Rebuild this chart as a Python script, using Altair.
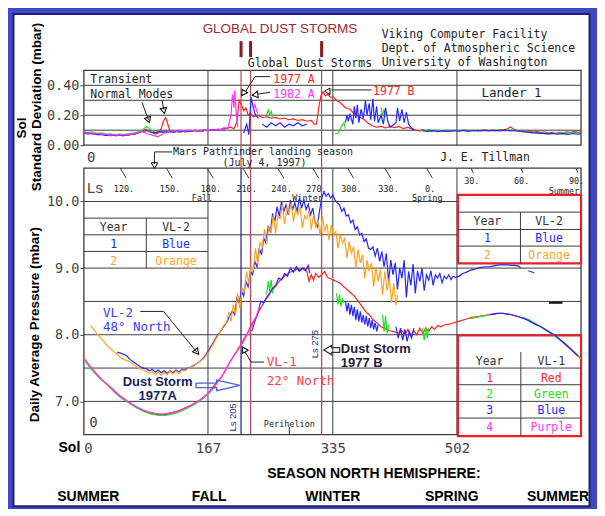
import altair as alt
import pandas as pd

W, H = 498, 365

BG_BLUE = "#4147c7"
NAVY = "#1d206c"
GRID = "#3c3c3c"
LABEL = "#444444"
MONO = "DejaVu Sans Mono"
SANS = "Liberation Sans"
C_RED, C_GREEN, C_BLUE, C_MAG, C_ORANGE = "#ff2424", "#22dd22", "#2626ff", "#ff33ff", "#ffa31f"
STORM_RED = "#b8475c"
STORM_NAVY = "#2c2a78"

# ---------------- data: daily average pressure (mbar) ----------------
VL2_BLUE = [[(45,7.74),(50,7.72),(55,7.70),(58,7.68),(62,7.63),(67,7.59),(72,7.55),(76,7.52),(80,7.50),(84,7.49),
             (88,7.46),(92,7.48),(96,7.44),(100,7.47),(104,7.43),(108,7.46),(112,7.42),(116,7.46),(120,7.43),(124,7.47),
             (128,7.44),(132,7.48),(136,7.47),(140,7.50),(144,7.52),(148,7.54),(152,7.57),(156,7.60),(160,7.64),(164,7.70),
             (168,7.77),(172,7.84),(176,7.92),(180,8.00),(184,8.05),(188,8.12),(192,8.18),(196,8.28),(200,8.36),(203,8.30),
             (206,8.55),(209,8.48),(212,8.66),(215,8.58),(218,8.80),(221,8.72),(224,8.96),(227,8.90),(230,9.10),(233,9.02),
             (236,9.30),(239,9.20),(242,9.45),(245,9.38),(248,9.62),(251,9.55),(254,9.82),(257,9.70),(260,9.92),(263,9.78),
             (266,10.00),(269,9.85),(272,9.95),(275,9.80),(278,10.02),(281,9.88),(284,9.98),(287,9.84),(290,10.05),(293,9.90),
             (296,10.02),(299,9.88),(302,9.96),(305,9.80),(308,9.90),(311,9.70),(314,9.62),(317,9.85),(320,10.05),(323,10.14),
             (326,10.08),(329,10.12),(332,10.05),(335,10.10),(338,10.02),(341,9.98),(344,9.95),(347,9.85),(350,9.90),(353,9.78),
             (356,9.80),(359,9.68),(362,9.72),(365,9.58),(368,9.62),(371,9.50),(374,9.52),(377,9.40),(380,9.44),(383,9.30),
             (386,9.28),(389,9.32),(392,9.18),(395,9.30),(398,9.10),(401,9.25),(404,9.02),(407,9.22),(410,8.80),(413,9.12),
             (416,8.90),(419,9.08),(422,8.68),(425,9.00),(428,8.85),(431,9.12),(434,8.56),(437,8.95),(440,8.74),(443,9.06),
             (446,8.62),(449,8.96),(452,8.80),(455,9.00),(458,8.66),(461,8.90),(464,8.82),(467,8.96),(470,8.74),(473,8.90),
             (476,8.85),(479,8.92),(482,8.78),(485,8.88),(488,8.84),(491,8.90),(494,8.83),(497,8.88),(500,8.86),(505,8.88),
             (510,8.92),(515,8.94),(520,8.97),(525,8.98),(530,9.00),(535,9.01),(540,9.02),(545,9.02),(550,9.03),(555,9.04),
             (560,9.05),(565,9.05),(570,9.05),(575,9.04),(580,9.04),(585,9.03),(588,9.00)],
            [(598,8.96),(606,8.93)]]

VL2_ORANGE = [[(9,8.14),(14,8.07),(18,8.01),(22,7.96),(27,7.90),(31,7.84),(36,7.79),(40,7.75),(45,7.71),(49,7.66),
               (54,7.63),(58,7.61),(62,7.59),(67,7.55),(71,7.52),(76,7.49),(80,7.47),(84,7.45),(88,7.42),(92,7.44),
               (96,7.40),(100,7.44),(104,7.39),(108,7.43),(112,7.40),(116,7.45),(120,7.41),(124,7.46),(128,7.42),(132,7.47),
               (136,7.46),(140,7.49),(144,7.52),(148,7.55),(152,7.57),(156,7.60),(160,7.63),(164,7.68),(168,7.74),(172,7.82),
               (176,7.90),(180,7.98),(184,8.05),(188,8.14),(192,8.18),(195,8.34),(198,8.20),(201,8.45),(204,8.30),(207,8.62),
               (210,8.40),(213,8.70),(216,8.66),(219,8.95),(222,8.76),(225,9.02),(228,8.98),(231,9.30),(234,9.05),(237,9.38),
               (240,9.32),(243,9.58),(246,9.36),(249,9.62),(252,9.55),(255,9.80),(258,9.52),(261,9.78),(264,9.74),(267,9.95),
               (270,9.66),(273,9.90),(276,9.82),(279,9.98),(282,9.70),(285,9.88),(288,9.80),(291,9.92),(294,9.60),(297,9.78),
               (300,9.74),(303,9.86),(306,9.58),(309,9.80),(312,9.62),(315,9.70),(318,9.48),(321,9.78),(324,9.55),(327,9.66),
               (330,9.42),(333,9.65),(336,9.50),(339,9.55),(342,9.30),(345,9.50),(348,9.38),(351,9.45),(354,9.15),(357,9.40),
               (360,9.22),(363,9.32),(366,9.00),(369,9.28),(372,9.08),(375,9.20),(378,8.85),(381,9.12),(384,8.95),(387,9.08),
               (390,8.72),(393,9.02),(396,8.80),(399,8.98),(402,8.60),(405,8.95),(408,8.66),(411,8.85),(414,8.48),(417,8.78),
               (420,8.44),(422,8.60)]]

VL1_RED = [[(0,7.64),(6,7.56),(12,7.48),(18,7.40),(24,7.33),(30,7.27),(36,7.21),(42,7.15),(48,7.09),(54,7.04),
            (60,6.99),(66,6.95),(72,6.91),(78,6.87),(84,6.84),(90,6.82),(96,6.81),(102,6.80),(108,6.80),(114,6.81),
            (120,6.83),(126,6.85),(132,6.88),(138,6.91),(144,6.94),(150,6.98),(156,7.02),(162,7.07),(168,7.13),(174,7.22),
            (180,7.30),(186,7.38),(192,7.50),(198,7.62),(204,7.72),(208,7.80),(212,7.86),(216,7.95),(220,8.02),(224,8.12),
            (228,8.20),(232,8.27),(236,8.36),(240,8.44),(244,8.52),(248,8.58),(252,8.65),(256,8.70),(260,8.76),(264,8.82),
            (268,8.86),(272,8.90),(276,8.93),(280,8.95),(284,8.97),(288,8.99),(292,8.97),(296,9.00),(300,8.96),(303,8.80),
            (306,8.90),(309,8.82),(312,8.92),(316,8.86),(320,8.90),(324,8.95),(328,8.86),(332,8.84),(336,8.82),(340,8.80),
            (344,8.78),(348,8.74),(352,8.70),(356,8.66),(360,8.62),(364,8.58),(368,8.52),(372,8.46),(376,8.40),(380,8.34),
            (384,8.30),(388,8.24),(392,8.20),(396,8.16),(400,8.12),(404,8.10),(408,8.08),(412,8.06),(416,8.05),(420,8.04),
            (424,8.02),(428,8.06),(432,8.00),(436,8.08),(440,7.98),(444,8.06),(448,8.00),(452,8.10),(456,8.02),(460,8.10),
            (464,8.05),(468,8.12),(472,8.08),(476,8.14),(480,8.12),(486,8.15),(492,8.16),(498,8.18),(504,8.20),(510,8.22),
            (516,8.24),(522,8.26),(528,8.27),(534,8.28),(540,8.29),(546,8.30),(552,8.31),(558,8.32),(564,8.32),(570,8.31),
            (576,8.30),(582,8.28),(588,8.26),(594,8.24),(600,8.21),(606,8.17),(612,8.14),(618,8.10),(624,8.06),(630,8.02),
            (636,7.97),(642,7.91),(648,7.85),(654,7.79),(660,7.73),(666,7.67),(669,7.64)]]

VL1_GREEN = [[(0,7.63),(10,7.48),(20,7.36),(30,7.26),(40,7.15),(50,7.05),(60,6.98),(70,6.91),(80,6.85),(90,6.81),
              (100,6.79),(110,6.79),(120,6.81),(130,6.85),(140,6.90),(150,6.96),(160,7.04),(170,7.14),(178,7.24)],
             [(246,8.60),(248,8.80),(250,8.65),(252,8.82),(254,8.62)],
             [(340,8.62),(342,8.45),(344,8.60),(346,8.42),(348,8.55),(350,8.48)],
             [(402,8.30),(404,8.05),(406,8.28),(408,8.02),(410,8.15)],
             [(456,8.10),(458,7.92),(460,8.12),(462,7.95),(464,8.10)],
             [(520,8.24),(528,8.26),(536,8.28),(544,8.29)],
             [(590,8.26),(600,8.22),(610,8.15),(620,8.08),(630,8.01),(640,7.93),(650,7.84),(660,7.74),(669,7.64)]]

VL1_BLUE = [[(226,8.05),(230,8.20),(234,8.32),(238,8.50),(242,8.48),(246,8.56),(250,8.62),(254,8.70),(258,8.74),(262,8.85),
             (266,8.82),(270,8.92),(274,8.88),(278,9.00),(282,8.94),(286,9.02),(290,8.95),(294,9.00),(298,8.96),(302,9.04),(304,8.92)],
            [(352,8.50),(354,8.35),(356,8.48),(358,8.30),(360,8.45),(362,8.28),(364,8.42),(366,8.22),(368,8.38),(370,8.20),
             (372,8.35),(374,8.18),(376,8.30),(378,8.15),(380,8.28),(382,8.12),(384,8.25),(386,8.10),(388,8.22),(390,8.08),
             (392,8.18),(394,8.05),(396,8.15)],
            [(420,8.12),(423,7.95),(426,8.10),(429,7.92),(432,8.08),(435,7.90),(438,8.05),(441,7.95),(444,8.10)],
            [(545,8.30),(555,8.32),(565,8.32),(575,8.30),(585,8.27),(595,8.23),(605,8.17),(615,8.12),(625,8.05),(635,7.98),
             (645,7.89),(655,7.79),(665,7.68)]]

VL1_MAGENTA = [[(0,7.65),(8,7.53),(16,7.42),(24,7.33),(32,7.25),(40,7.16),(48,7.08),(56,7.02),(64,6.96),(72,6.91),
                (80,6.87),(88,6.84),(96,6.82),(104,6.81),(112,6.82),(120,6.84),(128,6.86),(136,6.90),(144,6.94),(152,6.99),
                (160,7.05),(168,7.13),(176,7.23),(184,7.35),(190,7.45),(196,7.58),(202,7.69),(208,7.78),(214,7.88),(220,8.01),
                (226,8.13),(232,8.28),(236,8.40)]]

# ---------------- data: sol standard deviation (mbar) ----------------
SD_RED = [[(0,0.085),(4,0.078),(8,0.083),(12,0.074),(16,0.079),(20,0.070),(24,0.075),(28,0.066),(32,0.071),(36,0.063),
           (40,0.068),(44,0.062),(48,0.069),(52,0.063),(56,0.070),(60,0.066),(64,0.074),(68,0.072),(72,0.082),(76,0.088),
           (80,0.100),(84,0.106),(88,0.092),(92,0.084),(96,0.074),(100,0.082),(104,0.110),(107,0.160),(110,0.185),(113,0.140),
           (116,0.092),(120,0.084),(124,0.092),(128,0.086),(132,0.096),(136,0.088),(140,0.095),(144,0.090),(148,0.099),(152,0.091),
           (156,0.098),(160,0.093),(164,0.101),(168,0.096),(172,0.103),(176,0.100),(180,0.108),(184,0.104),(188,0.112),(192,0.110),
           (197,0.120),(202,0.110),(206,0.160),(209,0.300),(212,0.270),(215,0.230),(218,0.250),(221,0.200),(224,0.215),(228,0.190),
           (234,0.200),(240,0.185),(246,0.190),(252,0.180),(258,0.185),(264,0.175),(270,0.180),(276,0.170),(282,0.175),(288,0.165),
           (294,0.170),(300,0.160),(306,0.165),(310,0.140),(313,0.140),(316,0.250),(319,0.330),(322,0.355),(325,0.330),(328,0.340),
           (332,0.320),(336,0.320),(340,0.300),(346,0.280),(352,0.250),(358,0.240),(364,0.210),(370,0.190),(376,0.175),(382,0.150),
           (388,0.130),(394,0.120),(400,0.125),(406,0.115),(412,0.125),(418,0.118),(424,0.125),(430,0.110),(436,0.120),(442,0.105),
           (448,0.100),(452,0.094),(456,0.103),(460,0.095),(464,0.099),(468,0.093),(472,0.100),(476,0.094),(480,0.098),(485,0.093),
           (490,0.099),(495,0.094),(500,0.098),(505,0.095),(510,0.100),(515,0.094),(520,0.099),(525,0.096),(530,0.101),(535,0.096),
           (540,0.100),(545,0.097),(550,0.102),(555,0.098),(560,0.104),(565,0.102),(570,0.110),(574,0.122),(578,0.108),(582,0.100),
           (586,0.096),(590,0.098),(595,0.092),(600,0.095),(605,0.088),(610,0.091),(615,0.085),(620,0.088),(625,0.081),(630,0.085),
           (635,0.080),(640,0.086),(645,0.082),(650,0.089),(655,0.084),(660,0.092),(665,0.086),(669,0.090)]]

SD_GREEN = [[(0,0.090),(6,0.084),(12,0.088),(18,0.078),(24,0.082),(30,0.072),(36,0.076),(42,0.069),(48,0.074),(54,0.070),
             (60,0.076),(66,0.080),(72,0.088),(78,0.100),(82,0.115),(85,0.125),(88,0.112),(92,0.098),(96,0.085),(100,0.092),
             (106,0.086),(112,0.091),(118,0.085),(124,0.094),(130,0.088),(136,0.096),(142,0.091),(148,0.098),(154,0.093),
             (160,0.101),(166,0.096),(172,0.100)],
            [(246,0.200),(248,0.235),(250,0.205),(252,0.225),(254,0.190)],
            [(338,0.075),(342,0.080),(346,0.120),(350,0.150),(352,0.110)],
            [(400,0.250),(402,0.200),(404,0.240),(406,0.190)],
            [(452,0.102),(458,0.096),(464,0.104),(470,0.097),(476,0.101),(482,0.095),(488,0.100),(494,0.094),(500,0.099),
             (506,0.095),(512,0.102),(518,0.097),(524,0.101),(530,0.095),(536,0.100),(542,0.096),(548,0.101),(554,0.097),
             (560,0.100),(566,0.096),(572,0.102),(578,0.098),(584,0.094),(590,0.090),(596,0.087),(602,0.084),(608,0.082),
             (614,0.078),(620,0.080),(626,0.076),(632,0.080),(638,0.077),(644,0.082),(650,0.080),(656,0.085),(662,0.083),
             (668,0.086)]]

SD_BLUE = [[(0,0.080),(6,0.076),(12,0.078),(18,0.071),(24,0.072),(30,0.066),(36,0.068),(42,0.063),(48,0.067),(54,0.064),
            (60,0.070),(66,0.072),(72,0.080),(78,0.090),(84,0.098),(90,0.088),(96,0.082),(102,0.090),(108,0.087),(114,0.092),
            (120,0.086),(126,0.094),(132,0.090),(138,0.096),(144,0.092),(150,0.099),(156,0.095),(162,0.101),(168,0.098),
            (174,0.104),(180,0.102),(186,0.108),(190,0.110)],
           [(215,0.080),(219,0.140),(222,0.070),(225,0.320),(228,0.250),(231,0.200),(235,0.180)],
           [(240,0.140),(246,0.120),(252,0.150),(258,0.130),(264,0.150),(270,0.120),(276,0.140),(282,0.130),(288,0.150),
            (294,0.130),(300,0.140)],
           [(352,0.150),(354,0.200),(356,0.160),(358,0.210),(362,0.140),(364,0.260),(366,0.180),(368,0.270),(370,0.150),
            (373,0.240),(376,0.180),(379,0.300),(381,0.200),(384,0.280),(386,0.170),(389,0.310),(391,0.160),(394,0.260),
            (396,0.150),(400,0.200),(403,0.140),(406,0.250),(409,0.160),(412,0.120),(420,0.150),(422,0.250),(425,0.160),
            (428,0.240),(431,0.150),(434,0.220),(437,0.140),(440,0.120),(445,0.100)],
           [(455,0.098),(462,0.092),(469,0.097),(476,0.091),(483,0.096),(490,0.092),(497,0.098),(504,0.094),(511,0.099),
            (518,0.094),(525,0.098),(532,0.095),(539,0.100),(546,0.096),(553,0.099),(560,0.095),(567,0.100),(574,0.096),
            (581,0.098),(588,0.092),(595,0.088),(602,0.084),(609,0.082),(616,0.079),(623,0.076),(630,0.079),(637,0.073),
            (644,0.077),(651,0.072),(658,0.078),(665,0.074),(669,0.077)]]

SD_MAGENTA = [[(0,0.085),(5,0.080),(10,0.083),(15,0.076),(20,0.079),(25,0.071),(30,0.074),(35,0.067),(40,0.070),(45,0.066),
               (50,0.071),(55,0.068),(60,0.074),(65,0.072),(70,0.082),(74,0.086),(78,0.092),(82,0.084),(86,0.075),(90,0.070),
               (94,0.064),(100,0.058),(104,0.068),(108,0.080),(114,0.090),(118,0.086),(122,0.096),(126,0.091),(130,0.099),
               (135,0.094),(140,0.101),(145,0.096),(150,0.100),(155,0.095),(160,0.103),(165,0.098),(170,0.102),(175,0.099),
               (180,0.106),(185,0.104),(188,0.115),(194,0.115),(198,0.200),(200,0.340),(202,0.250),(203,0.367),(205,0.220),
               (207,0.120)],
              [(228,0.230),(230,0.270),(232,0.240),(234,0.210)]]

# ---------------- axes, grid, reference lines ----------------
SOL_TICKS = [0, 167, 335, 502]
P_TICKS = [7, 8, 9, 10]
SD_TICKS = [0.0, 0.2, 0.4]
SD_GRID = [0.1, 0.2, 0.3, 0.4]
P_GRID = [7.0, 7.5, 8.0, 8.5, 9.0, 9.5, 10.0]
SEASON_SOLS = [167, 335, 502]
STORM_SOLS = [211.5, 224.3, 319.9]

LS_VALUES = ["120.", "150.", "180.", "210.", "240.", "270.", "300.", "330.", "0.", "30.", "60.", "90."]
LS_SOLS = [49, 111, 166, 214, 261, 308, 355, 405, 461, 521, 588, 662]
LS_SEASONS = [("Fall", 159, 10.05), ("Winter", 301, 10.05), ("Spring", 462, 10.05), ("Summer", 646, 10.15)]

XS = alt.Scale(domain=[0, 669], nice=False, zero=False)
PS = alt.Scale(domain=[6.5, 10.5], range=[H, 98], nice=False, zero=False)
SS = alt.Scale(domain=[0, 0.5], range=[75, 0], nice=False, zero=False)

X_AXIS = alt.Axis(values=SOL_TICKS, labelFont=MONO, labelFontSize=14, labelColor=LABEL, ticks=False,
                  domain=False, grid=False, labelPadding=7, labelFlush=True, title=None, zindex=2)
Y_STYLE = dict(labelFont=MONO, labelFontSize=13.5, labelColor=LABEL, tickColor=LABEL, tickSize=4,
               domain=False, grid=False, labelPadding=1, title=None, orient="left", zindex=2)
P_AXIS = alt.Axis(values=P_TICKS, format=".1f", **Y_STYLE)
SD_AXIS = alt.Axis(values=SD_TICKS, format=".2f", **Y_STYLE)


def X(f="sol"):
    return alt.X(f"{f}:Q", scale=XS, axis=X_AXIS)


def Y(f, scale, axis=None):
    return alt.Y(f"{f}:Q", scale=scale, axis=axis)


def one():
    return pd.DataFrame({"k": [0]})


def polylines(lines, scale, axis=None, **kw):
    rows = []
    for g, pts in enumerate(lines):
        for o, (s, v) in enumerate(pts):
            rows.append({"sol": s, "v": v, "g": g, "o": o})
    return alt.Chart(pd.DataFrame(rows)).mark_line(**kw).encode(
        x=X(), y=Y("v", scale, axis), detail="g:N", order="o:Q")


def segs(rows, scale, **kw):
    df = pd.DataFrame(rows, columns=["s1", "v1", "s2", "v2"])
    return alt.Chart(df).mark_rule(**kw).encode(x=X("s1"), x2=alt.X2("s2"), y=Y("v1", scale), y2=alt.Y2("v2"))


def box(rows, scale, axis=None, **kw):
    df = pd.DataFrame(rows, columns=["s1", "s2", "v1", "v2"])
    return alt.Chart(df).mark_rect(**kw).encode(x=X("s1"), x2=alt.X2("s2"), y=Y("v1", scale, axis), y2=alt.Y2("v2"))


def notes(rows, scale, **kw):
    df = pd.DataFrame(rows, columns=["sol", "v", "t"])
    return alt.Chart(df).mark_text(**kw).encode(x=X(), y=Y("v", scale), text="t:N")


def cnotes(rows, scale, **kw):
    df = pd.DataFrame(rows, columns=["sol", "v", "t", "c"])
    return alt.Chart(df).mark_text(**kw).encode(x=X(), y=Y("v", scale), text="t:N",
                                                 color=alt.Color("c:N", scale=None))


def ptext(x, y, t, **kw):
    return alt.Chart(pd.DataFrame({"t": [t]})).mark_text(**kw).encode(
        x=alt.value(x), y=alt.value(y), text="t:N")


def heads(rows, scale):
    df = pd.DataFrame(rows, columns=["sol", "v", "a"])
    return alt.Chart(df).mark_point(shape="triangle-down", filled=False, size=42, color="black",
                                    strokeWidth=1, opacity=1).encode(
        x=X(), y=Y("v", scale), angle=alt.Angle("a:Q", scale=None))


layers = []

# background and frame
layers.append(alt.Chart(one()).mark_rect(color=BG_BLUE).encode(
    x=alt.value(-75.5), x2=alt.value(513.5), y=alt.value(-61.3), y2=alt.value(438.7)))
layers.append(alt.Chart(one()).mark_rect(fill="white", stroke=NAVY, strokeWidth=2).encode(
    x=alt.value(-70.5), x2=alt.value(506.5), y=alt.value(-56.3), y2=alt.value(436.7)))

# grid lines
layers.append(segs([(0, v, 669, v) for v in SD_GRID], SS, color=GRID, strokeWidth=1))
layers.append(segs([(s, 0, s, 0.5) for s in SEASON_SOLS], SS, color=GRID, strokeWidth=1))
layers.append(segs([(0, v, 669, v) for v in P_GRID], PS, color=GRID, strokeWidth=1))
layers.append(segs([(s, 6.5, s, 10.5) for s in SEASON_SOLS], PS, color=GRID, strokeWidth=1))

# panel borders with their y axes
layers.append(box([(0, 669, 0, 0.5)], SS, axis=SD_AXIS, fillOpacity=0, stroke=GRID, strokeWidth=1.3))
layers.append(box([(0, 669, 6.5, 10.5)], PS, axis=P_AXIS, fillOpacity=0, stroke=GRID, strokeWidth=1.3))

# Ls row
ls_lines = []
for i, s in enumerate(LS_SOLS):
    if i < 9:
        ls_lines.append([(s, 10.5), (s + 8, 10.35)])
    else:
        ls_lines.append([(s, 10.5), (s + 3, 10.43)])
layers.append(polylines(ls_lines, PS, color="#333333", strokeWidth=1))
layers.append(notes([(LS_SOLS[i] + (5 if i < 9 else 1), 10.18 if i < 9 else 10.30, LS_VALUES[i])
                     for i in range(len(LS_SOLS))], PS, font=MONO, fontSize=8.5, color="#222222"))
layers.append(notes([(s, v, t) for t, s, v in LS_SEASONS], PS, font=MONO, fontSize=8.5, color="#222222"))
layers.append(notes([(4.3, 10.2, "Ls")], PS, font=SANS, fontSize=15, color="#5a4048", align="left"))

# VL-2 table (left)
layers.append(segs([(0, 9.75, 167, 9.75), (0, 9.25, 167, 9.25), (84, 9.0, 84, 9.75)], PS, color=GRID, strokeWidth=1))
layers.append(cnotes([(40, 9.6, "Year", "#333333"), (124, 9.6, "VL-2", "#333333"),
                      (40, 9.35, "1", C_BLUE), (124, 9.35, "Blue", C_BLUE),
                      (40, 9.09, "2", C_ORANGE), (124, 9.09, "Orange", C_ORANGE)],
                     PS, font=MONO, fontSize=11.5))

# red boxed tables (right)
layers.append(box([(503.3, 669, 9.07, 10.10), (503.3, 669, 6.48, 7.99)], PS,
                  fill="white", stroke="#e8202a", strokeWidth=2.2))
layers.append(segs([(503.3, 9.84, 669, 9.84), (503.3, 9.58, 669, 9.58), (503.3, 9.33, 669, 9.33),
                    (587.5, 9.07, 587.5, 9.84),
                    (503.3, 7.5, 669, 7.5), (503.3, 7.25, 669, 7.25), (503.3, 7.0, 669, 7.0),
                    (503.3, 6.75, 669, 6.75), (588, 6.48, 588, 7.74)], PS, color=GRID, strokeWidth=1))
layers.append(cnotes([(543, 9.69, "Year", "#333333"), (626, 9.69, "VL-2", "#333333"),
                      (543, 9.44, "1", C_BLUE), (626, 9.44, "Blue", C_BLUE),
                      (543, 9.18, "2", C_ORANGE), (626, 9.18, "Orange", C_ORANGE),
                      (546, 7.59, "Year", "#333333"), (629, 7.59, "VL-1", "#333333"),
                      (546, 7.34, "1", C_RED), (629, 7.34, "Red", C_RED),
                      (546, 7.09, "2", C_GREEN), (629, 7.09, "Green", C_GREEN),
                      (546, 6.85, "3", C_BLUE), (629, 6.85, "Blue", C_BLUE),
                      (546, 6.60, "4", C_MAG), (629, 6.60, "Purple", C_MAG)],
                     PS, font=MONO, fontSize=11.5))

# global dust storm markers
storm_df = pd.DataFrame({"sol": STORM_SOLS, "c": [STORM_NAVY, STORM_RED, STORM_RED]})
layers.append(alt.Chart(storm_df).mark_rule(color=STORM_RED, strokeWidth=1.2).encode(
    x=X(), y=alt.value(0), y2=alt.value(98)))
layers.append(alt.Chart(storm_df).mark_rule(strokeWidth=1.3).encode(
    x=X(), y=alt.value(98), y2=alt.value(H), color=alt.Color("c:N", scale=None)))
layers.append(segs([(s, 0.588, s, 0.695) for s in STORM_SOLS], SS, color="#8b1a24", strokeWidth=3))

# small marker line at right
layers.append(segs([(626, 8.48, 644, 8.48)], PS, color="#111111", strokeWidth=2))

# data: standard deviation
layers.append(polylines(SD_RED, SS, color=C_RED, strokeWidth=1.2))
layers.append(polylines(SD_GREEN, SS, color=C_GREEN, strokeWidth=1.2))
layers.append(polylines(SD_BLUE, SS, color=C_BLUE, strokeWidth=1.2))
layers.append(polylines(SD_MAGENTA, SS, color=C_MAG, strokeWidth=1.2))

# data: daily average pressure
layers.append(polylines(VL2_BLUE, PS, color=C_BLUE, strokeWidth=1.2))
layers.append(polylines(VL2_ORANGE, PS, color=C_ORANGE, strokeWidth=1.2))
layers.append(polylines(VL1_RED, PS, color=C_RED, strokeWidth=1.2))
layers.append(polylines(VL1_GREEN, PS, color=C_GREEN, strokeWidth=1.2))
layers.append(polylines(VL1_BLUE, PS, color=C_BLUE, strokeWidth=1.2))
layers.append(polylines(VL1_MAGENTA, PS, color=C_MAG, strokeWidth=1.2))

# leader lines and arrow heads (top panel)
layers.append(polylines([[(78.2, 0.286), (87, 0.168)], [(105, 0.302), (107.7, 0.237)],
                         [(250.5, 0.458), (230.4, 0.458), (217.5, 0.358)],
                         [(250.5, 0.353), (234.7, 0.342)],
                         [(387, 0.369), (333.3, 0.369)],
                         [(118.8, -0.045), (95, -0.045), (95, -0.126)]], SS, color="#222222", strokeWidth=1))
layers.append(heads([(87, 0.168, 340), (107.7, 0.23, 350), (214.6, 0.346, 32), (230.3, 0.336, 82),
                     (327.4, 0.36, 90), (95, -0.136, 0)], SS))
# leader lines and arrow heads (lower panel)
layers.append(polylines([[(75.9, 8.35), (107.2, 8.35), (152, 7.74)],
                         [(242.4, 7.59), (225, 7.59), (217, 7.74)]], PS, color="#222222", strokeWidth=1))
layers.append(heads([(152, 7.74, 321), (215.5, 7.78, 150)], PS))
layers.append(segs([(276.5, 6.61, 276.5, 6.51)], PS, color="#222222", strokeWidth=1))

# hollow block arrows
arrow_a = "M-1,-0.1 L-0.06,-0.1 L-0.06,-0.24 L1,0 L-0.06,0.24 L-0.06,0.1 L-1,0.1 Z"
arrow_b = "M-1,0 L0,-0.6 L0,-0.3 L1,-0.3 L1,0.3 L0,0.3 L0,0.6 Z"
layers.append(alt.Chart(pd.DataFrame({"sol": [180.5], "v": [7.24]})).mark_point(
    shape=arrow_a, size=1936, filled=False, stroke="#4a62d8", strokeWidth=1.3, opacity=1).encode(x=X(), y=Y("v", PS)))
layers.append(alt.Chart(pd.DataFrame({"sol": [333.5], "v": [7.77]})).mark_point(
    shape=arrow_b, size=256, filled=False, stroke="#333344", strokeWidth=1.2, opacity=1).encode(x=X(), y=Y("v", PS)))

# annotation text: top panel
layers.append(notes([(8.7, 0.438, "Transient"), (8.7, 0.338, "Normal Modes")], SS,
                    font=MONO, fontSize=11.5, color="#222222", align="left"))
layers.append(notes([(575.4, 0.351, "Lander 1")], SS, font=MONO, fontSize=12.5, color="#222222"))
layers.append(notes([(254.9, 0.438, "1977 A"), (389.2, 0.353, "1977 B")], SS,
                    font=MONO, fontSize=11.5, color=C_RED, align="left"))
layers.append(notes([(254.9, 0.338, "1982 A")], SS, font=MONO, fontSize=11.5, color=C_MAG, align="left"))
layers.append(notes([(10, -0.083, "0")], SS, font=MONO, fontSize=14, color=LABEL))
layers.append(notes([(119.8, -0.043, "Mars Pathfinder landing season")], SS,
                    font=MONO, fontSize=10, color="#222222", align="left"))
layers.append(notes([(243, -0.119, "(July 4, 1997)")], SS, font=MONO, fontSize=10, color="#222222"))
layers.append(notes([(539.8, -0.083, "J. E. Tillman")], SS, font=MONO, fontSize=11.5, color="#222222"))
layers.append(notes([(304.2, 0.539, "Global Dust Storms")], SS, font=MONO, fontSize=11.5, color="#222222"))
layers.append(notes([(400.8, 0.734, "Viking Computer Facility"), (400.8, 0.640, "Dept. of Atmospheric Science"),
                     (400.8, 0.548, "University of Washington")], SS,
                    font=MONO, fontSize=11.5, color="#222222", align="left"))
layers.append(notes([(263.9, 0.774, "GLOBAL DUST STORMS")], SS, font=SANS, fontSize=13.5, color="#a02830"))

# annotation text: lower panel
layers.append(notes([(25.8, 8.33, "VL-2"), (25.8, 8.11, "48° North")], PS,
                    font=MONO, fontSize=12.5, color="#3b3bff", align="left"))
layers.append(notes([(246, 7.59, "VL-1"), (246, 7.30, "22° North")], PS,
                    font=MONO, fontSize=12.5, color="#ff4040", align="left"))
layers.append(notes([(99.3, 7.29, "Dust Storm"), (99.3, 7.08, "1977A")], PS,
                    font=SANS, fontSize=13, fontWeight="bold", color="#1b1f5e"))
layers.append(notes([(345.8, 7.78, "Dust Storm"), (345.8, 7.57, "1977 B")], PS,
                    font=SANS, fontSize=13, fontWeight="bold", color="#2a1a3a", align="left"))
layers.append(notes([(200.7, 6.76, "Ls 205"), (310.5, 7.86, "Ls 275")], PS,
                    font=SANS, fontSize=9.5, color=STORM_NAVY, angle=270))
layers.append(notes([(276.5, 6.66, "Perihelion")], PS, font=MONO, fontSize=8.5, color="#222222"))
layers.append(notes([(12.8, 6.67, "0")], PS, font=MONO, fontSize=14, color=LABEL))

# titles outside the plots
layers.append(ptext(-61.5, 57.7, "Sol", font=SANS, fontSize=13.5, fontWeight="bold", angle=270, color="black"))
layers.append(ptext(-46.5, 36.7, "Standard Deviation (mbar)", font=SANS, fontSize=13.5, fontWeight="bold",
                    angle=270, color="black"))
layers.append(ptext(-48.5, 254.7, "Daily Average Pressure (mbar)", font=SANS, fontSize=13.5, fontWeight="bold",
                    angle=270, color="black"))
layers.append(ptext(-14.5, 378.7, "Sol", font=SANS, fontSize=14, fontWeight="bold", color="black"))
layers.append(ptext(290.5, 404.7, "SEASON NORTH HEMISPHERE:", font=SANS, fontSize=14, fontWeight="bold",
                    color="black"))
SEASON_FOOT = [(6, "SUMMER"), (168.5, "FALL"), (335, "WINTER"), (495, "SPRING"), (638, "SUMMER")]
foot_df = pd.DataFrame(SEASON_FOOT, columns=["sol", "t"])
layers.append(alt.Chart(foot_df).mark_text(font=SANS, fontSize=14, fontWeight="bold", color="black").encode(
    x=X(), y=alt.value(427.5), text="t:N"))

chart = alt.layer(*layers).resolve_scale(y="independent").properties(
    width=W, height=H, padding=0, background=BG_BLUE
).configure_view(strokeWidth=0)

chart.save("out.html", embed_options={"renderer": "svg", "actions": False})
